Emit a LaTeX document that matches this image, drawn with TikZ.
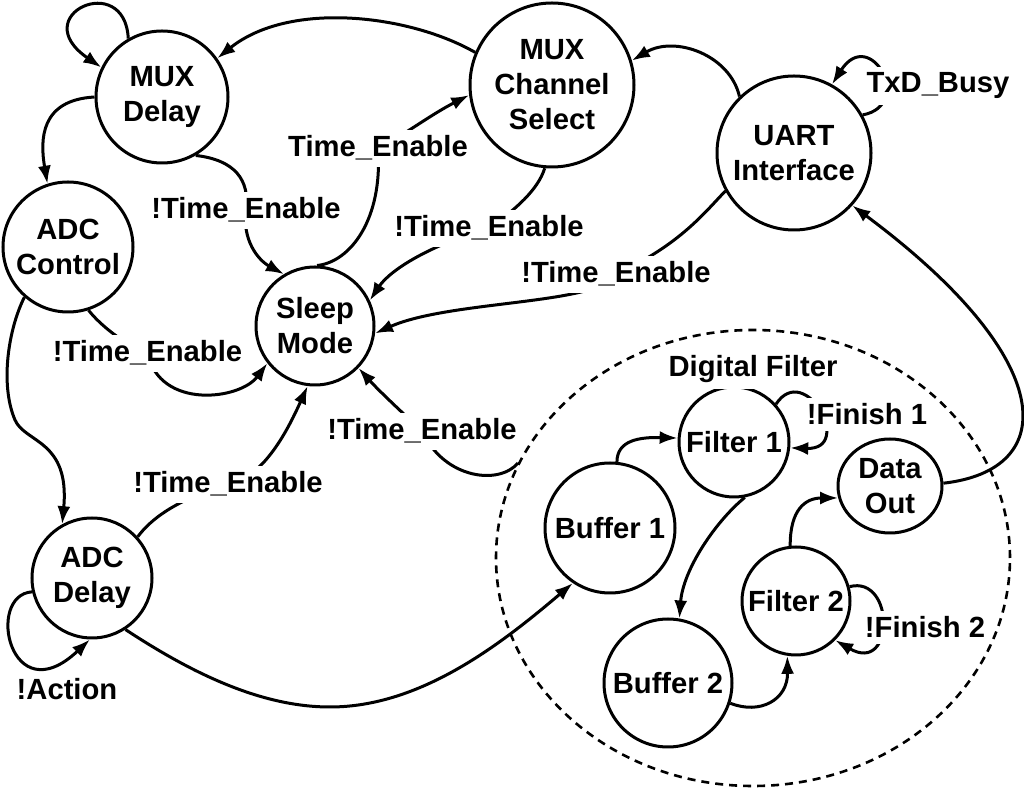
\documentclass[tikz,border=0pt]{standalone}
\usepackage{fontspec}
\setmainfont{Liberation Sans}
\usetikzlibrary{arrows.meta,shapes.geometric,backgrounds}
\newcommand{\dgfont}{\bfseries\fontsize{14.6}{17.5}\selectfont}
\begin{document}
\begin{tikzpicture}[x=0.5pt,y=-0.5pt,
  state/.style={circle,draw,line width=1.5pt,fill=white,inner sep=0pt,align=center,font=\dgfont},
  lab/.style={font=\dgfont,fill=white,inner sep=3pt,anchor=base},
  conn/.style={line width=1.5pt,-{Latex[length=9pt,width=6.5pt]}}]
\useasboundingbox (0,0) rectangle (1024,790);
% states
\node[state,minimum size=66pt] (md) at (162,97) {MUX\\Delay};
\node[state,minimum size=65pt] (adcc) at (68,247) {ADC\\Control};
\node[state,minimum size=59pt] (sleep) at (315,326) {Sleep\\Mode};
\node[state,minimum size=82pt] (mcs) at (552,85) {MUX\\Channel\\Select};
\node[state,minimum size=77pt] (uart) at (794,153) {UART\\Interface};
\node[state,minimum size=60pt] (adcd) at (92,578) {ADC\\Delay};
\node[draw,dashed,dash pattern=on 4pt off 3pt,line width=1.3pt,ellipse,minimum width=257pt,minimum height=228pt,inner sep=0pt] (df) at (753,558) {};
\node[state,minimum size=65pt] (buf1) at (610,528) {Buffer 1};
\node[state,minimum size=55pt] (f1) at (734,442) {Filter 1};
\node[state,ellipse,minimum width=52pt,minimum height=47pt] (dout) at (890,486) {Data\\Out};
\node[state,minimum size=54pt] (f2) at (796,601) {Filter 2};
\node[state,minimum size=64pt] (buf2) at (668,683) {Buffer 2};
% labels
\node[lab] (l1) at (246,219) {!Time\_Enable};
\node[lab] (l2) at (378,157) {Time\_Enable};
\node[lab] (l3) at (489,237) {!Time\_Enable};
\node[lab] (l4) at (616,283) {!Time\_Enable};
\node[lab] (l5) at (147.5,362) {!Time\_Enable};
\node[lab] (l6) at (228,493) {!Time\_Enable};
\node[lab] (l7) at (422,440) {!Time\_Enable};
\node[lab] (la) at (67,700) {!Action};
\node[lab] (ltx) at (938,93) {TxD\_Busy};
\node[lab] (ldf) at (753,377) {Digital Filter};
\node[lab] (lf1) at (867,425) {!Finish 1};
\node[lab] (lf2) at (925,638) {!Finish 2};
\begin{pgfonlayer}{background}
\fill[white] (0,0) rectangle (1024,790);
% MUX Delay loop
\draw[conn] (md.120) .. controls (125,-30) and (25,15) .. (md.154);
% MCS -> MUX Delay
\draw[conn] (mcs.157) .. controls (410,15) and (290,0) .. (md.35);
% MUX Delay -> ADC Control
\draw[conn] (md.180) .. controls (40,100) and (40,140) .. (adcc.108);
% MUX Delay -> Sleep
\draw[conn] (md.-60) .. controls (235,160) and (250,180) .. (l1.center)
  .. controls (242,240) and (258,260) .. (sleep.121);
% Sleep -> MCS
\draw[conn] (sleep.88) .. controls (350,262) and (383,220) .. (l2.center)
  .. controls (400,138) and (430,115) .. (mcs.-173);
% MCS -> Sleep
\draw[conn] (mcs.-95) .. controls (538,190) and (515,210) .. (l3.center)
  .. controls (430,245) and (390,270) .. (sleep.25);
% UART -> Sleep
\draw[conn] (uart.-151) .. controls (705,212) and (680,245) .. (l4.center)
  .. controls (600,305) and (450,300) .. (sleep.-7);
% UART -> MCS
\draw[conn] (uart.134) .. controls (730,55) and (675,35) .. (mcs.17);
% UART loop
\draw[conn] (uart.29) .. controls (915,105) and (870,25) .. (uart.61);
% ADC Control -> Sleep
\draw[conn] (adcc.-72) .. controls (100,325) and (125,345) .. (l5.center)
  .. controls (160,410) and (240,400) .. (sleep.-142);
% ADC Control -> ADC Delay
\draw[conn] (adcc.-131) .. controls (8,330) and (0,385) .. (15,420)
  .. controls (25,443) and (70,440) .. (adcd.119);
% ADC Delay -> Sleep
\draw[conn] (adcd.42) .. controls (150,520) and (175,500) .. (l6.center)
  .. controls (265,478) and (290,425) .. (sleep.-97);
% Digital Filter -> Sleep
\draw[conn] (df.158) .. controls (500,485) and (445,480) .. (l7.center)
  .. controls (405,415) and (380,392) .. (sleep.-44);
% ADC Delay loop
\draw[conn] (adcd.-167) .. controls (-15,595) and (10,715) .. (adcd.-92);
% ADC Delay -> Buffer 1
\draw[conn] (adcd.-57) .. controls (190,672) and (260,707) .. (330,707)
  .. controls (420,707) and (500,645) .. (buf1.-124);
% Data Out -> UART
\draw[conn] (dout.3) .. controls (1060,470) and (1060,360) .. (uart.-42);
% Buffer 1 -> Filter 1
\draw[conn] (buf1.84) .. controls (617,440) and (640,437) .. (f1.176);
% Filter 1 loop
\draw[conn] (f1.42) .. controls (805,360) and (855,450) .. (f1.-6);
% Filter 1 -> Buffer 2
\draw[conn] (f1.-79) .. controls (715,522) and (683,570) .. (buf2.80);
% Buffer 2 -> Filter 2
\draw[conn] (buf2.-18) .. controls (760,715) and (788,700) .. (f2.-99);
% Filter 2 -> Data Out
\draw[conn] (f2.96) .. controls (790,510) and (805,498) .. (dout.193);
% Filter 2 loop
\draw[conn] (f2.15) .. controls (895,575) and (895,675) .. (f2.-45);
\end{pgfonlayer}
\end{tikzpicture}
\end{document}
